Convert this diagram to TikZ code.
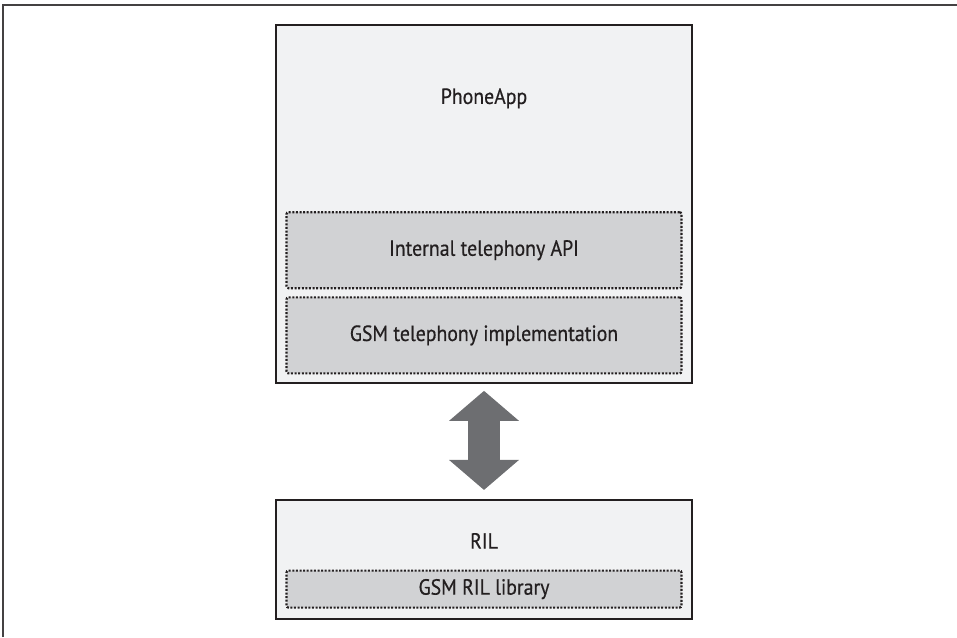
\documentclass[tikz,border=0pt]{standalone}
\usepackage{fontspec}
\setmainfont[FakeStretch=0.9, FakeBold=0.5]{PT Sans}
\usepackage{xcolor}
\usetikzlibrary{arrows.meta, positioning, calc}

\definecolor{inkdark}{HTML}{231F20}
\definecolor{paleback}{HTML}{F1F2F3}
\definecolor{midgray}{HTML}{D1D2D4}
\definecolor{arrowgray}{HTML}{6D6E71}

\begin{document}
\begin{tikzpicture}[
    x=1pt, y=1pt,
    font=\fontsize{22}{25}\selectfont, text=inkdark,
    outerbox/.style={rectangle, draw=inkdark, line width=1.8pt, fill=paleback, minimum width=416pt, inner sep=0pt},
    innerbox/.style={rectangle, rounded corners=2pt, draw=inkdark, line width=2.2pt, dash pattern=on 2pt off 1.6pt, fill=midgray, minimum width=395pt, inner sep=0pt},
    lbl/.style={inner sep=0pt},
    fatarr/.style={arrowgray, line width=32pt, {Triangle[length=30pt, width=70pt, line width=0pt]}-{Triangle[length=30pt, width=70pt, line width=0pt]}}
]
\useasboundingbox (0,0) rectangle (957,637);

% frame
\draw[inkdark!85, line width=1.4pt] (3,0) -- (3,632) -- (957,632);

% PhoneApp
\node[outerbox, minimum height=358pt] (phone) at (484,433) {};
\node[lbl, below=64pt of phone.north] (phonelbl) {PhoneApp};

\node[innerbox, minimum height=76pt, below=187pt of phone.north] (api) {};
\node[lbl] at (api) {Internal telephony API};
\node[innerbox, minimum height=76pt, below=7pt of api] (gsm) {};
\node[lbl] at (gsm) {GSM telephony implementation};

% RIL
\node[outerbox, minimum height=119pt, below=115pt of phone] (ril) {};
\node[lbl, below=34pt of ril.north] (rillbl) {RIL};
\node[innerbox, minimum height=37pt, above=11pt of ril.south] (lib) {};
\node[lbl] at (lib) {GSM RIL library};

% link
\draw[fatarr, shorten <=7pt, shorten >=9pt] (phone.south) -- (ril.north);

\end{tikzpicture}
\end{document}
